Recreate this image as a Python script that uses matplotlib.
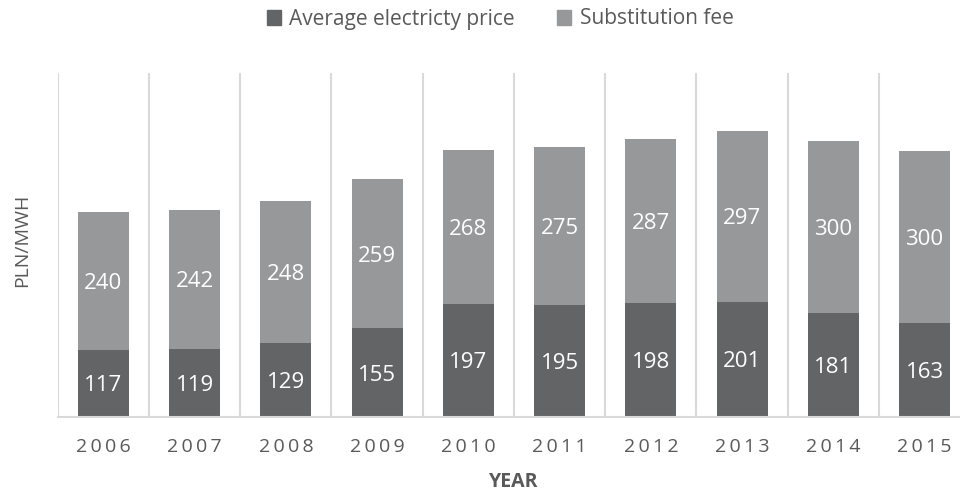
import numpy as np
import matplotlib.pyplot as plt
from matplotlib.patches import Patch

plt.rcParams['font.family'] = ['Open Sans', 'DejaVu Sans']

years = ['2006', '2007', '2008', '2009', '2010', '2011', '2012', '2013', '2014', '2015']
price = [117, 119, 129, 155, 197, 195, 198, 201, 181, 163]
fee = [240, 242, 248, 259, 268, 275, 287, 297, 300, 300]

dark = '#636466'
light = '#97989a'
txt = '#595959'
grid = '#d9d9d9'

fig = plt.figure(figsize=(9.6, 4.92), dpi=100)
ax = fig.add_axes([57.7/960, 1-417/492, 912.5/960, (417-72.6)/492])

x = np.arange(len(years))
w = 0.56
b1 = ax.bar(x, price, w, color=dark, zorder=2)
b2 = ax.bar(x, fee, w, bottom=price, color=light, zorder=2)

for i in range(len(years)):
    ax.text(x[i], price[i]/2, str(price[i]), ha='center', va='center_baseline',
            color='white', fontsize=16)
    ax.text(x[i], price[i] + fee[i]/2, str(fee[i]), ha='center', va='center_baseline',
            color='white', fontsize=16)

ax.set_xlim(-0.5, len(years)-0.5)
ax.set_ylim(0, 600)

# vertical separators between categories
for xv in np.arange(-0.5, len(years), 1.0):
    ax.axvline(xv, color=grid, lw=1.5, zorder=1)

for s in ['top', 'right', 'left']:
    ax.spines[s].set_visible(False)
ax.spines['bottom'].set_color(grid)
ax.spines['bottom'].set_linewidth(1.5)
ax.set_yticks([])
ax.set_xticks(x)
ax.set_xticklabels(['\u2009'.join(y) for y in years], color=txt, fontsize=14)
ax.tick_params(axis='x', length=0, pad=15)

fig.text(22/960, 1-240/492, 'PLN/MWH', rotation=90, ha='center', va='center',
         color=txt, fontsize=14)
fig.text(514/960, 1-482/492, 'YEAR', ha='center', va='center',
         color=txt, fontsize=14, fontweight='bold')

handles = [Patch(color=dark), Patch(color=light)]
fig.legend(handles, ['Average electricty price', 'Substitution fee'],
           loc='center', bbox_to_anchor=(500/960, 1-19/492), ncol=2,
           frameon=False, fontsize=15, labelcolor=txt,
           handlelength=0.7, handleheight=0.7, handletextpad=0.4, columnspacing=2.0)

fig.savefig('out.png', dpi=100)
